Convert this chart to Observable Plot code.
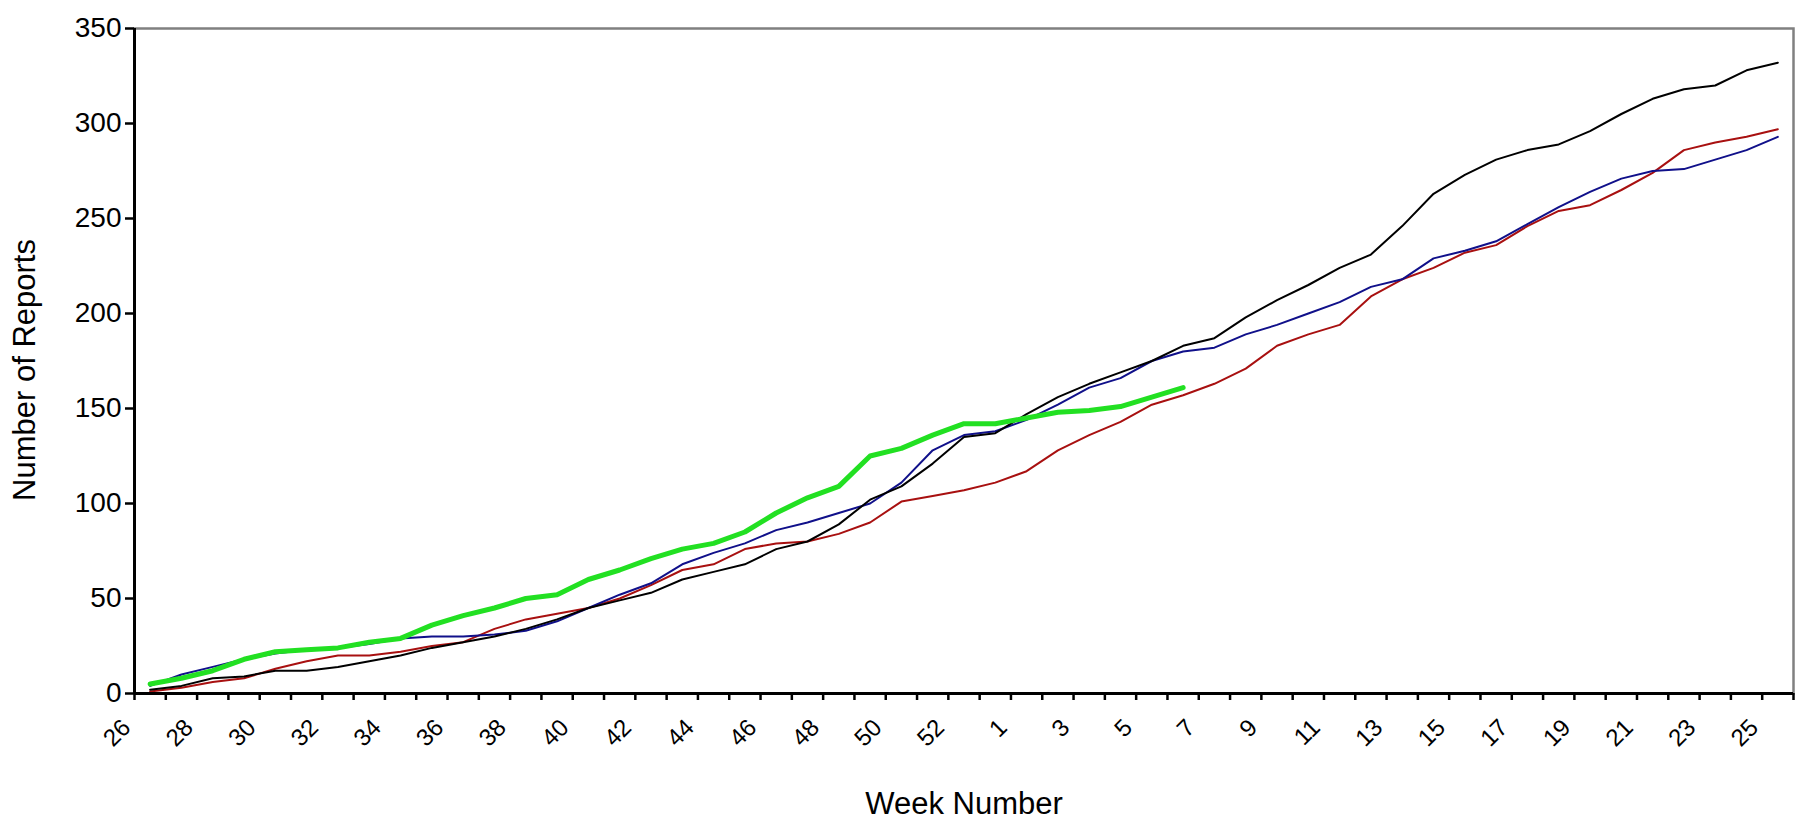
<!DOCTYPE html>
<html>
<head>
<meta charset="utf-8">
<script src="https://cdn.jsdelivr.net/npm/d3@7"></script>
<script src="https://cdn.jsdelivr.net/npm/@observablehq/plot@0.6"></script>
<style>
  html, body { margin: 0; padding: 0; background: #ffffff; }
  #chart { width: 1807px; height: 830px; overflow: hidden; }
</style>
</head>
<body>
<div id="chart"></div>
<script>
// Categories: week numbers (53-week year), one category per week
const weeks = [26,27,28,29,30,31,32,33,34,35,36,37,38,39,40,41,42,43,44,45,46,47,48,49,50,51,52,53,
               1,2,3,4,5,6,7,8,9,10,11,12,13,14,15,16,17,18,19,20,21,22,23,24,25];
// Tick labels shown on the axis
const tickLabels = ["26","28","30","32","34","36","38","40","42","44","46","48","50","52",
                    "1","3","5","7","9","11","13","15","17","19","21","23","25"];
const yTicks = [0,50,100,150,200,250,300,350];

// Cumulative number of reports per series
const seriesBlack = [2,4,8,9,12,12,14,17,20,24,27,30,34,39,45,49,53,60,64,68,76,80,89,102,109,121,135,137,
                     147,156,163,169,175,183,187,198,207,215,224,231,246,263,273,281,286,289,296,305,313,318,320,328,332];
const seriesBlue  = [4,10,14,18,21,23,24,26,29,30,30,31,33,38,45,52,58,68,74,79,86,90,95,100,111,128,136,138,
                     144,152,161,166,175,180,182,189,194,200,206,214,218,229,233,238,247,256,264,271,275,276,281,286,293];
const seriesRed   = [1,3,6,8,13,17,20,20,22,25,27,34,39,42,45,50,57,65,68,76,79,80,84,90,101,104,107,111,
                     117,128,136,143,152,157,163,171,183,189,194,209,218,224,232,236,246,254,257,265,274,286,290,293,297];
const seriesGreen = [5,8,12,18,22,23,24,27,29,36,41,45,50,52,60,65,71,76,79,85,95,103,109,125,129,136,142,142,
                     145,148,149,151,156,161];

// Build rows: category index i is centred in its band [i, i+1]
const rows = (arr) => arr.map((v, i) => ({x: i + 0.5, week: weeks[i], v}));
const labelPos = tickLabels.map(l => weeks.indexOf(+l));

const font = "'Liberation Sans', Arial, sans-serif";

const chart = Plot.plot({
  width: 1807,
  height: 830,
  marginLeft: 134,
  marginRight: 14,
  marginTop: 28,
  marginBottom: 137,
  style: {fontFamily: font, background: "#ffffff", color: "#000000", overflow: "visible"},
  x: {type: "linear", domain: [0, weeks.length]},
  y: {domain: [0, 350]},
  marks: [
    Plot.frame({stroke: "#808080", strokeWidth: 2.5}),
    Plot.axisY(yTicks, {tickSize: 9, tickPadding: 4, fontSize: 28, strokeWidth: 2.5, label: null, tickFormat: d => String(d)}),
    Plot.axisX(d3.range(weeks.length + 1), {tickSize: 7, tickFormat: () => "", strokeWidth: 2.5, label: null}),
    Plot.axisX(labelPos, {tickSize: 0, tickPadding: 30, tickRotate: -45, dx: -8, fontSize: 24, label: null,
                          tickFormat: i => String(weeks[i])}),
    Plot.line(rows(seriesRed),   {x: "x", y: "v", stroke: "#a81010", strokeWidth: 2}),
    Plot.line(rows(seriesBlue),  {x: "x", y: "v", stroke: "#10108a", strokeWidth: 2}),
    Plot.line(rows(seriesBlack), {x: "x", y: "v", stroke: "#000000", strokeWidth: 2}),
    Plot.line(rows(seriesGreen), {x: "x", y: "v", stroke: "#22e022", strokeWidth: 5}),
    Plot.ruleX([0], {stroke: "#000000", strokeWidth: 3}),
    Plot.ruleY([0], {stroke: "#000000", strokeWidth: 3}),
    Plot.text(["Week Number"], {text: d => d, frameAnchor: "bottom", dy: 120, fontSize: 31, fill: "#000000"}),
    Plot.text(["Number of Reports"], {text: d => d, frameAnchor: "left", textAnchor: "middle", rotate: -90,
                                      dx: -109, dy: 9, fontSize: 31, fill: "#000000"})
  ]
});
document.getElementById("chart").appendChild(chart);
</script>
</body>
</html>
